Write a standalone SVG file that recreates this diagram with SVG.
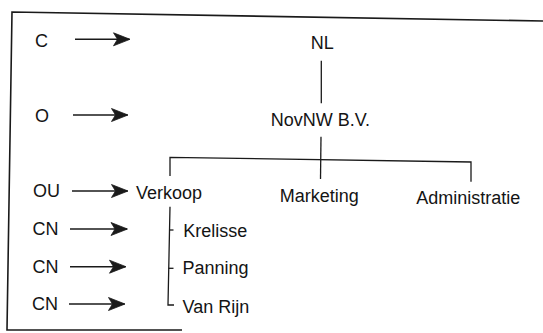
<svg xmlns="http://www.w3.org/2000/svg" width="543" height="333" viewBox="0 0 543 333">
<style>
text{font-family:"Liberation Sans",Arial,sans-serif;font-size:18px;fill:#141414}
.ln{stroke:#1a1a1a;stroke-width:1.3;fill:none}
.fr{stroke:#1a1a1a;stroke-width:1.6;fill:none}
.ar{stroke:#1a1a1a;stroke-width:1.4;fill:none;marker-end:url(#ah)}
</style>
<defs>
<marker id="ah" markerUnits="userSpaceOnUse" markerWidth="20" markerHeight="16" viewBox="-18 -8 19 16" refX="0" refY="0" orient="auto" overflow="visible">
<path d="M0.5,0 L-16,-6.5 L-12,0 L-16,6.5 Z" fill="#1a1a1a" stroke="#1a1a1a" stroke-width="0.8" stroke-linejoin="round"/>
</marker>
</defs>
<rect width="543" height="333" fill="#fff"/>
<polyline class="fr" points="543,21 12,12 7,330 182,330"/>
<g id="labels">
<text x="35" y="46.5">C</text>
<text x="35" y="121.5">O</text>
<text x="33" y="196.7">OU</text>
<text x="32.5" y="235">CN</text>
<text x="32.5" y="272.7">CN</text>
<text x="32" y="310">CN</text>
</g>
<g id="connectors">
<line class="ar" x1="75" y1="39.3" x2="129.5" y2="39.3"/>
<line class="ar" x1="73" y1="115" x2="127.5" y2="115"/>
<line class="ar" x1="72" y1="191" x2="127.5" y2="191"/>
<line class="ar" x1="70" y1="229" x2="127" y2="229"/>
<line class="ar" x1="70" y1="266.7" x2="125.5" y2="266.7"/>
<line class="ar" x1="69" y1="304" x2="124.5" y2="304"/>
<line class="ln" x1="321.3" y1="60.7" x2="321.3" y2="103.3"/>
<line class="ln" x1="321" y1="136.7" x2="320.5" y2="179"/>
<polyline class="ln" points="170,176 170,157.3 471,162 471,181.7"/>
<polyline class="ln" points="170,206.7 168,305 174,305"/>
<line class="ln" x1="169.2" y1="230" x2="173.5" y2="230"/>
<line class="ln" x1="168.5" y1="268.3" x2="173.5" y2="268.3"/>
</g>
<g id="n-nl"><text x="310.7" y="49">NL</text></g>
<g id="n-novnw"><text x="270.7" y="126">NovNW B.V.</text></g>
<g id="n-verkoop"><text x="136" y="199.3">Verkoop</text></g>
<g id="n-marketing"><text x="279.7" y="201.7">Marketing</text></g>
<g id="n-administratie"><text x="416.3" y="204.3">Administratie</text></g>
<g id="n-krelisse"><text x="183.3" y="236.7">Krelisse</text></g>
<g id="n-panning"><text x="182.5" y="274.3">Panning</text></g>
<g id="n-vanrijn"><text x="182.5" y="312.7">Van Rijn</text></g>
</svg>
